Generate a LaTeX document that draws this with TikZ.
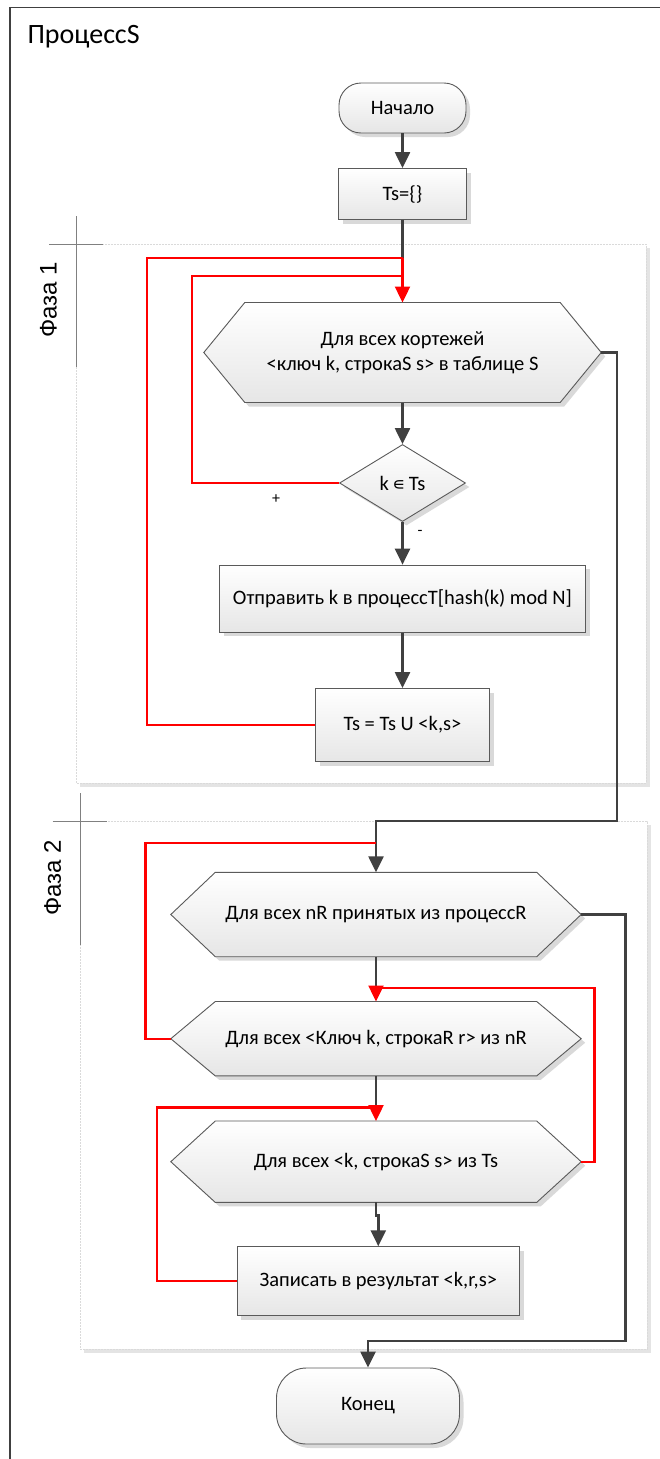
\documentclass[tikz,border=0pt]{standalone}
\usepackage{fontspec}
\setmainfont{Carlito}
\newfontfamily\phasefont{Liberation Sans}
\newfontfamily\symfont{DejaVu Sans}
\usetikzlibrary{arrows.meta,shapes.geometric,shadows}
\pgfdeclarelayer{back}
\pgfdeclarelayer{bg}
\pgfsetlayers{back,bg,main}
\definecolor{lc}{HTML}{404040}
\definecolor{bord}{HTML}{5A5A5A}
\definecolor{shc}{HTML}{D9D9D9}
\definecolor{botc}{HTML}{E6E6E6}
\definecolor{phb}{HTML}{DADADA}
\definecolor{phs}{HTML}{E4E4E4}
\definecolor{crossc}{HTML}{808080}
\newcommand\nodefont{\fontsize{20.5}{25}\selectfont}
\newcommand\hexpath[2]{(#1.west) -- ([xshift=#2pt]#1.north west) -- ([xshift=-#2pt]#1.north east) -- (#1.east) -- ([xshift=-#2pt]#1.south east) -- ([xshift=#2pt]#1.south west) -- cycle}
\newcommand\drawhex[2]{%
  \begin{pgfonlayer}{bg}
    \fill[shc, transform canvas={xshift=4pt,yshift=-4pt}] \hexpath{#1}{#2};
    \path[draw=bord, line width=0.9pt, top color=white, bottom color=botc] \hexpath{#1}{#2};
  \end{pgfonlayer}}
\tikzset{
  box/.style={rectangle, draw=bord, line width=0.9pt, top color=white, bottom color=botc,
    drop shadow={shadow xshift=4pt, shadow yshift=-4pt, fill=shc, opacity=1},
    inner sep=0pt, font=\nodefont, align=center},
  term/.style={box, rounded corners=#1},
  hexnode/.style={rectangle, draw=none, inner sep=0pt, font=\nodefont, align=center},
  dec/.style={box, diamond, inner sep=0pt},
  arr/.style={-{Triangle[length=16pt,width=15pt]}},
  blk/.style={draw=lc, line width=2.4pt},
  rd/.style={draw=red, line width=2.4pt},
  phasebox/.style={fill=white, draw=phb, line width=0.8pt, dash pattern=on 2pt off 1pt},
  crossline/.style={draw=crossc, line width=0.9pt},
  phaselabel/.style={rotate=90, font=\phasefont\fontsize{24}{24}\selectfont},
  pm/.style={font=\fontsize{16}{16}\selectfont}
}
\begin{document}
\begin{tikzpicture}[x=1pt,y=-1pt]
\useasboundingbox (0,0) rectangle (660,1459);
% frame
\draw[lc, line width=1.5pt] (660,7.5) -- (10,7.5) -- (10,1459);
\node[anchor=base west, font=\fontsize{28}{28}\selectfont] (title) at (24,43.5) {ПроцессS};
% phase boxes
\begin{pgfonlayer}{back}
  \fill[phs] (80,248) rectangle (650,787);
  \path[phasebox] (76,244) rectangle (646,783);
  \fill[phs] (84,825) rectangle (651,1353);
  \path[phasebox] (80,821) rectangle (647,1349);
\end{pgfonlayer}
\draw[crossline] (49,244) -- (103,244);
\draw[crossline] (76,216) -- (76,367);
\draw[crossline] (52.6,821) -- (107,821);
\draw[crossline] (80,793) -- (80,945);
\node[phaselabel] (ph1) at (48.5,300) {Фаза 1};
\node[phaselabel] (ph2) at (52.5,878) {Фаза 2};
% nodes
\node[term=22pt, minimum width=127pt, minimum height=50pt] (start) at (402.5,108) {Начало};
\node[box, minimum width=128pt, minimum height=51pt] (ts) at (402.5,194) {Ts=\{\}};
\node[hexnode, minimum width=397pt, minimum height=99.6pt] (h1) at (402.5,352.5) {Для всех кортежей\\<ключ k, строкаS s> в таблице S};
\drawhex{h1}{41}
\node[dec, minimum width=126pt, minimum height=77pt] (dia) at (402.5,483) {k\,{\symfont\fontsize{18}{18}\selectfont ∊}\,Ts};
\node[box, minimum width=366pt, minimum height=67pt] (send) at (402.5,598.6) {Отправить k в процессТ[hash(k) mod N]};
\node[box, minimum width=174pt, minimum height=73pt] (tsu) at (402.5,725) {Ts = Ts U <k,s>};
\node[hexnode, minimum width=410pt, minimum height=84pt] (h2) at (376,914.5) {Для всех nR принятых из процессR};
\drawhex{h2}{44.5}
\node[hexnode, minimum width=410pt, minimum height=74pt] (h3) at (376,1038.7) {Для всех <Ключ k, строкаR r> из nR};
\drawhex{h3}{44.5}
\node[hexnode, minimum width=410pt, minimum height=81pt] (h4) at (376,1161.7) {Для всех <k, строкаS s> из Ts};
\drawhex{h4}{44.5}
\node[box, minimum width=282.5pt, minimum height=69pt] (rec) at (378.3,1281.2) {Записать в результат <k,r,s>};
\node[term=30pt, minimum width=183pt, minimum height=76pt] (end) at (368,1406) {Конец};
\node[pm] (plus) at (276,499) {+};
\node[pm] (minus) at (420,533) {-};
% coordinates
\coordinate (j1) at (402.5,257.7);
\coordinate (j2) at (402.5,275.7);
\coordinate (l1) at (147,257.7);
\coordinate (l2) at (192,275.7);
\coordinate (r1) at (617,821);
\coordinate (j5) at (376,842.7);
\coordinate (l5) at (145.6,842.7);
\coordinate (j3) at (376,987.7);
\coordinate (l3) at (594.3,987.7);
\coordinate (j4) at (376,1107.3);
\coordinate (l4) at (157,1107.3);
\coordinate (r2) at (625.4,1341);
% black connectors
\draw[blk, arr] (start) -- (ts);
\draw[blk] (ts) -- (j1);
\draw[blk, arr] (h1) -- (dia);
\draw[blk, arr] (dia) -- (send);
\draw[blk, arr] (send) -- (tsu);
\draw[blk, arr] (h1.east) -| (r1) -| (h2.north);
\draw[blk] (h2) -- (j3);
\draw[blk] (h3) -- (j4);
\draw[blk, arr] (h4.south) -- ++(0,13) -| (rec.north);
\draw[blk, arr] (h2.east) -| (r2) -| (end.north);
% red loops
\draw[rd] (tsu.west) -| (l1) -- (j1);
\draw[rd] (dia.west) -| (l2) -- (j2);
\draw[rd, arr] (j1) -- (h1.north);
\draw[rd] (h3.west) -| (l5) -- (j5);
\draw[rd] (h4.east) -| (l3) -- (j3);
\draw[rd, arr] (j3) -- (h3.north);
\draw[rd] (rec.west) -| (l4) -- (j4);
\draw[rd, arr] (j4) -- (h4.north);
\end{tikzpicture}
\end{document}
